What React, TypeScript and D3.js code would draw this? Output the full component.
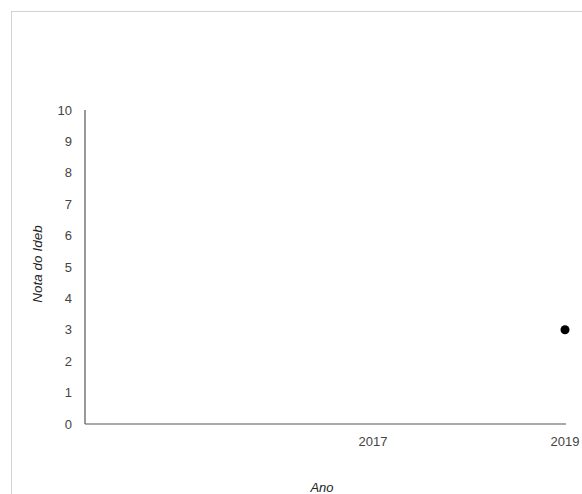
import React from "react";
import * as d3 from "d3";

const years: number[] = [2019];
const values: number[] = [3];
const xTicks: number[] = [2017, 2019];
const yTicks: number[] = [0, 1, 2, 3, 4, 5, 6, 7, 8, 9, 10];
const xTitle = "Ano";
const yTitle = "Nota do Ideb";

export default function App() {
  const W = 582, H = 494;
  const left = 85, right = 565, top = 110, bottom = 424;
  const x = d3.scaleLinear().domain([2014, 2019]).range([left, right]);
  const y = d3.scaleLinear().domain([0, 10]).range([bottom, top]);
  const font = "'Liberation Sans', Arial, sans-serif";
  return (
    <svg width={W} height={H} style={{ position: "absolute", left: 0, top: 0 }} fontFamily={font}>
      <rect x={11.5} y={11.5} width={700} height={700} fill="#fff" stroke="#d3d3d3" strokeWidth={1} />
      <line x1={left} x2={left} y1={top} y2={bottom} stroke="#555" strokeWidth={1.2} />
      <line x1={left} x2={right + 1} y1={bottom} y2={bottom} stroke="#555" strokeWidth={1.2} />
      {yTicks.map((t) => (
        <text key={t} x={72} y={y(t)} dy="0.35em" textAnchor="end" fontSize={13} fill="#444">
          {t}
        </text>
      ))}
      {xTicks.map((t) => (
        <text key={t} x={x(t)} y={bottom + 17} dy="0.35em" textAnchor="middle" fontSize={13} fill="#444">
          {t}
        </text>
      ))}
      <text x={(left + right) / 2 - 3} y={487} dy="0.35em" textAnchor="middle" fontSize={13} fontStyle="italic" fill="#222">
        {xTitle}
      </text>
      <text
        transform={`translate(37,${(top + bottom) / 2 - 3}) rotate(-90)`}
        dy="0.35em"
        textAnchor="middle"
        fontSize={13.5}
        fontStyle="italic"
        fill="#222"
      >
        {yTitle}
      </text>
      {years.map((yr, i) => (
        <circle key={yr} cx={x(yr)} cy={y(values[i])} r={4.5} fill="#000" />
      ))}
    </svg>
  );
}
